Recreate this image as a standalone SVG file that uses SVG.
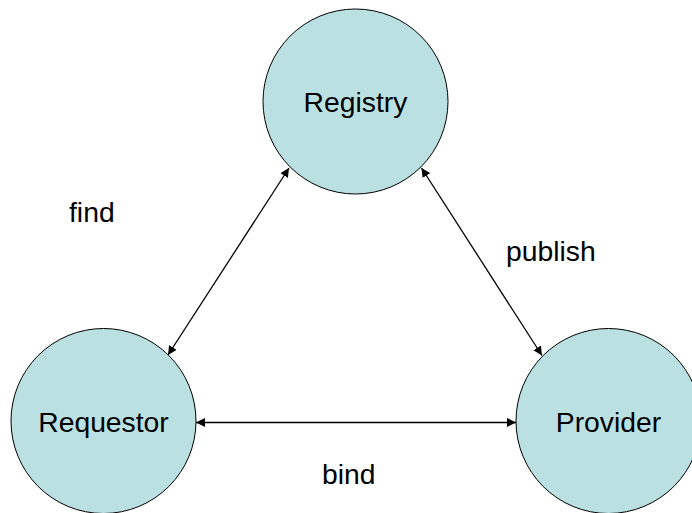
<svg xmlns="http://www.w3.org/2000/svg" width="692" height="513" viewBox="0 0 692 513">
<style>
.node circle{fill:#bbe0e2;stroke:#000;stroke-width:1}
text{font-family:"Liberation Sans",Arial,sans-serif;font-size:28.3px;fill:#000}
.node text{text-anchor:middle}
.conn line{stroke:#000;stroke-width:1.3;marker-start:url(#ah);marker-end:url(#ah)}
</style>
<defs>
<marker id="ah" viewBox="0 0 10 10" refX="10" refY="5" markerWidth="9" markerHeight="9" markerUnits="userSpaceOnUse" orient="auto-start-reverse">
<path d="M0,0 L10,5 L0,10 z" fill="#000"/>
</marker>
</defs>
<rect width="692" height="513" fill="#fff"/>
<g id="registry" class="node"><circle cx="355.5" cy="101.5" r="92.5"/><text x="355.5" y="112">Registry</text></g>
<g id="requestor" class="node"><circle cx="103.5" cy="421" r="92.5"/><text x="103.5" y="432">Requestor</text></g>
<g id="provider" class="node"><circle cx="608.5" cy="421" r="92.5"/><text x="608.5" y="432">Provider</text></g>
<g id="connectors" class="conn">
<line x1="168" y1="355" x2="289" y2="168"/>
<line x1="421.5" y1="168" x2="542" y2="355.5"/>
<line x1="196" y1="422.5" x2="516" y2="422.5"/>
</g>
<g id="labels">
<text x="69" y="222">find</text>
<text x="506" y="260.5">publish</text>
<text x="322" y="484">bind</text>
</g>
</svg>
